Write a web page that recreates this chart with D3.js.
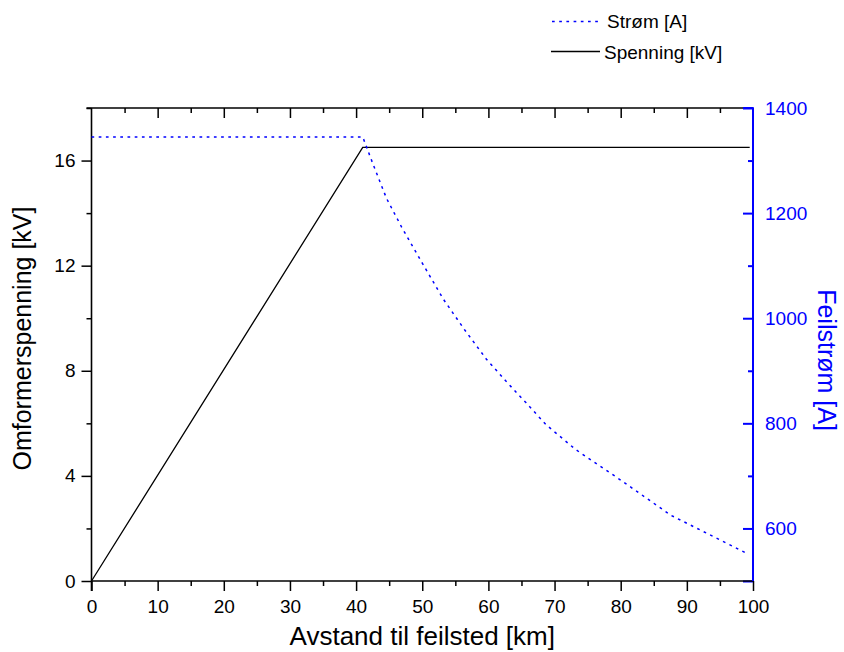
<!DOCTYPE html>
<html><head><meta charset="utf-8">
<script src="https://cdn.jsdelivr.net/npm/d3@7"></script>
<style>
html,body{margin:0;padding:0;background:#fff;}
svg{display:block;font-family:"Liberation Sans",Arial,sans-serif;}
</style></head>
<body>
<svg id="c" width="844" height="652"></svg>
<script>
// ---- data ----
const spenningX = [0, 41, 99.5];
const spenningKV = [0, 16.5, 16.5];
const stromX = [0, 41, 42.5, 44.6, 46.9, 50, 53.2, 56.4, 59.7, 62.6, 65.7, 68.75, 73.2, 80, 87.6, 99];
const stromA = [1345, 1345, 1295, 1228, 1173, 1105, 1036, 978, 922, 881, 839, 797, 750, 692, 625, 553];
const xTicks = [0,10,20,30,40,50,60,70,80,90,100];
const xMinor = [5,15,25,35,45,55,65,75,85,95];
const yLTicks = [0,4,8,12,16];
const yLMinor = [2,6,10,14,18];
const yRTicks = [600,800,1000,1200,1400];
const yRMinor = [500,700,900,1100,1300];
const legendLabels = ["Strøm [A]", "Spenning [kV]"];
const xTitle = "Avstand til feilsted [km]";
const yLTitle = "Omformerspenning [kV]";
const yRTitle = "Feilstrøm [A]";

const BLUE = "#0000ff";
const TFS = 19;
const L = 91.5, R = 753, T = 108, B = 581;
const svg = d3.select("#c");
const x = d3.scaleLinear().domain([0,100]).range([L,R]);
const yL = d3.scaleLinear().domain([0,18]).range([B,T]);
const yR = d3.scaleLinear().domain([500,1400]).range([B,T]);

const fmt = d3.format("d");
function styleAxis(g, color, fs){
  g.select(".domain").remove();
  g.selectAll("line").attr("stroke", color).attr("stroke-width", 1.5);
  g.selectAll("text").attr("fill", color).attr("font-size", fs).attr("font-family","Liberation Sans, Arial, sans-serif");
}
// bottom
const gb = svg.append("g").attr("transform",`translate(0,${B})`);
gb.call(d3.axisBottom(x).tickValues(xTicks).tickSize(10).tickPadding(8.5).tickFormat(fmt));
styleAxis(gb, "#000", TFS);
const gbm = svg.append("g").attr("transform",`translate(0,${B})`);
gbm.call(d3.axisBottom(x).tickValues(xMinor).tickSize(5).tickFormat(""));
styleAxis(gbm, "#000", TFS);
// top (mirror, inward)
const gt = svg.append("g").attr("transform",`translate(0,${T})`);
gt.call(d3.axisTop(x).tickValues(xTicks.slice(1,-1)).tickSize(-10).tickFormat(""));
styleAxis(gt, "#000", TFS);
const gtm = svg.append("g").attr("transform",`translate(0,${T})`);
gtm.call(d3.axisTop(x).tickValues(xMinor).tickSize(-5).tickFormat(""));
styleAxis(gtm, "#000", TFS);
// left
const gl = svg.append("g").attr("transform",`translate(${L},0)`);
gl.call(d3.axisLeft(yL).tickValues(yLTicks).tickSize(10).tickPadding(6).tickFormat(fmt));
styleAxis(gl, "#000", TFS);
const glm = svg.append("g").attr("transform",`translate(${L},0)`);
glm.call(d3.axisLeft(yL).tickValues(yLMinor).tickSize(5).tickFormat(""));
styleAxis(glm, "#000", TFS);
// right (blue, inward)
const gr = svg.append("g").attr("transform",`translate(${R},0)`);
gr.call(d3.axisRight(yR).tickValues(yRTicks).tickSize(-10).tickPadding(12).tickFormat(fmt));
styleAxis(gr, BLUE, TFS);
gr.selectAll("line").attr("stroke-width", 2);
const grm = svg.append("g").attr("transform",`translate(${R},0)`);
grm.call(d3.axisRight(yR).tickValues(yRMinor).tickSize(-5).tickFormat(""));
styleAxis(grm, BLUE, TFS);
grm.selectAll("line").attr("stroke-width", 2);
grm.selectAll(".tick").filter(d=>d===500).select("line").attr("x2",-10);

// axis lines
svg.append("line").attr("x1",L).attr("x2",R).attr("y1",B).attr("y2",B).attr("stroke","#000").attr("stroke-width",1.6);
svg.append("line").attr("x1",L-5).attr("x2",R).attr("y1",T).attr("y2",T).attr("stroke","#000").attr("stroke-width",1.6);
svg.append("line").attr("x1",L).attr("x2",L).attr("y1",T).attr("y2",B+10).attr("stroke","#000").attr("stroke-width",1.6);
svg.append("line").attr("x1",R-10).attr("x2",R).attr("y1",T).attr("y2",T).attr("stroke",BLUE).attr("stroke-width",2);
svg.append("line").attr("x1",R).attr("x2",R).attr("y1",T-0.8).attr("y2",B).attr("stroke",BLUE).attr("stroke-width",2);

// data lines
const vData = spenningX.map((d,i)=>[d, spenningKV[i]]);
const iData = stromX.map((d,i)=>[d, stromA[i]]);
svg.append("path").datum(vData)
  .attr("d", d3.line().x(d=>x(d[0])).y(d=>yL(d[1])))
  .attr("fill","none").attr("stroke","#000").attr("stroke-width",1.3);
svg.append("path").datum(iData)
  .attr("d", d3.line().x(d=>x(d[0])).y(d=>yR(d[1])))
  .attr("fill","none").attr("stroke",BLUE).attr("stroke-width",1.5).attr("stroke-dasharray","2.7,4.5");

// titles
svg.append("text").attr("x",(L+R)/2).attr("y",645).attr("text-anchor","middle")
  .attr("font-size",26).attr("fill","#000").text(xTitle);
svg.append("text").attr("transform",`translate(31,${(T+B)/2-6}) rotate(-90)`).attr("text-anchor","middle")
  .attr("font-size",25).attr("fill","#000").text(yLTitle);
svg.append("text").attr("transform",`translate(818,360) rotate(90)`).attr("text-anchor","middle")
  .attr("font-size",25).attr("fill",BLUE).text(yRTitle);

// legend
const lg = svg.append("g");
lg.append("line").attr("x1",552).attr("x2",600).attr("y1",21.5).attr("y2",21.5)
  .attr("stroke",BLUE).attr("stroke-width",1.5).attr("stroke-dasharray","2.7,4.5");
lg.append("line").attr("x1",551).attr("x2",600).attr("y1",51.5).attr("y2",51.5)
  .attr("stroke","#000").attr("stroke-width",1.3);
lg.append("text").attr("x",607).attr("y",28).attr("font-size",19).attr("fill","#000").text(legendLabels[0]);
lg.append("text").attr("x",604).attr("y",58.5).attr("font-size",19).attr("fill","#000").text(legendLabels[1]);
</script>
</body></html>
